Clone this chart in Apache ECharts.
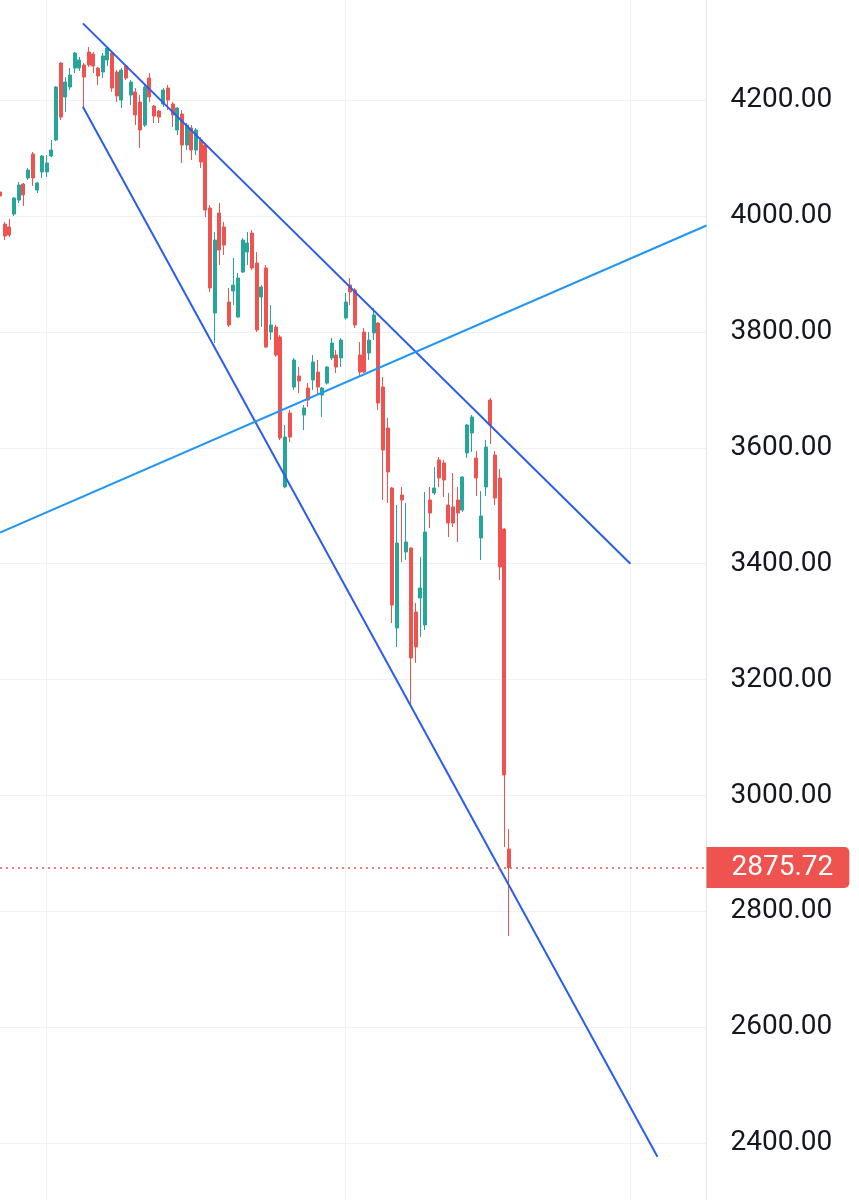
<!DOCTYPE html>
<html>
<head>
<meta charset="utf-8">
<script src="https://cdn.jsdelivr.net/npm/echarts@6/dist/echarts.min.js"></script>
<style>
html,body{margin:0;padding:0;background:#fff;}
#chart{width:859px;height:1200px;}
</style>
</head>
<body>
<div id="chart"></div>
<script>
// ---- data (index = candle number) ----
const opens  = [4041.3,3986.0,3980.9,4003.3,4027.4,4055.1,4065.4,4106.8,4044.7,4075.8,
                4075.8,4103.4,4131.0,4263.8,4205.2,4222.4,4255.2,4255.2,4260.4,4282.8,
                4279.3,4255.2,4248.3,4269.0,4281.1,4248.3,4200.0,4258.6,4208.6,4213.8,
                4196.5,4156.8,4237.9,4189.6,4181.0,4193.1,4220.7,4193.1,4148.2,4175.8,
                4122.3,4151.7,4113.7,4131.0,4122.3,4013.6,3832.5,4005.0,3980.9,3851.5,
                3870.5,3825.6,3903.2,3937.7,3970.5,3918.8,3860.1,3910.1,3799.7,3808.3,
                3791.1,3532.3,3660.0,3704.8,3723.8,3656.5,3703.1,3716.9,3730.7,3691.0,
                3711.7,3754.9,3760.0,3754.9,3823.9,3880.8,3872.2,3760.0,3799.7,3763.5,
                3798.0,3815.2,3704.8,3634.1,3530.6,3289.0,3518.5,3420.2,3427.1,3316.6,
                3340.8,3294.2,3509.9,3522.0,3578.9,3573.7,3501.2,3497.8,3509.9,3492.6,
                3591.0,3625.5,3582.3,3444.3,3532.3,3682.4,3587.5,3547.8,3459.8,2907.8];
const closes = [4034.4,3965.3,3967.1,4030.9,4053.3,4036.1,4079.2,4065.4,4056.8,4103.4,
                4091.3,4113.7,4222.4,4170.6,4231.0,4243.1,4281.1,4269.0,4239.7,4260.4,
                4258.6,4241.4,4275.9,4289.7,4220.7,4206.9,4251.7,4237.9,4231.0,4174.1,
                4148.2,4222.4,4205.2,4172.4,4170.6,4217.2,4200.0,4174.1,4186.2,4122.3,
                4156.8,4113.7,4148.2,4093.0,4010.2,3875.6,3958.4,3941.2,3949.8,3811.8,
                3880.8,3892.9,3958.4,3953.3,3910.1,3803.2,3877.4,3773.8,3811.8,3760.0,
                3616.8,3618.6,3618.6,3751.4,3715.2,3668.6,3682.4,3748.0,3704.8,3703.1,
                3739.3,3780.7,3739.3,3785.9,3851.5,3868.7,3811.8,3730.7,3730.7,3785.9,
                3829.0,3677.2,3596.1,3558.2,3328.7,3435.7,3509.9,3437.4,3237.3,3256.3,
                3358.1,3454.7,3487.4,3530.6,3547.8,3544.4,3470.2,3470.2,3487.4,3549.5,
                3639.3,3653.1,3547.8,3482.3,3601.3,3639.3,3513.3,3394.3,3035.4,2875.72];
const lows   = [4030.9,3958.4,3963.6,3999.8,4022.3,4017.1,4062.0,4051.6,4039.5,4065.4,
                4067.1,4101.6,4129.2,4165.5,4179.3,4217.2,4246.6,4250.0,4187.9,4256.9,
                4246.6,4225.9,4237.9,4258.6,4213.8,4196.5,4186.2,4234.5,4191.3,4156.8,
                4117.2,4153.4,4196.5,4160.3,4160.3,4187.9,4182.7,4153.4,4139.6,4091.3,
                4113.7,4096.5,4105.1,4082.7,3998.1,3868.7,3780.7,3915.3,3932.6,3808.3,
                3846.3,3824.0,3901.5,3915.3,3906.7,3799.7,3808.3,3772.1,3785.9,3757.0,
                3613.4,3530.0,3609.9,3699.7,3694.5,3630.6,3670.3,3699.7,3691.0,3653.1,
                3709.0,3751.4,3729.0,3739.3,3821.0,3846.3,3806.6,3722.1,3729.0,3751.4,
                3785.9,3665.1,3509.9,3504.7,3297.7,3256.3,3402.9,3406.4,3156.2,3228.7,
                3273.5,3285.6,3461.6,3518.5,3532.3,3515.0,3446.0,3463.3,3437.4,3489.2,
                3582.3,3592.7,3516.8,3406.4,3516.8,3606.5,3501.2,3371.9,2911.2,2757.7];
const highs  = [4044.7,3989.5,3994.7,4032.6,4058.5,4056.8,4082.7,4110.3,4058.5,4105.1,
                4105.1,4131.0,4224.1,4265.5,4239.7,4255.2,4282.8,4274.2,4263.8,4291.4,
                4282.8,4256.9,4281.1,4291.4,4282.8,4251.7,4255.2,4260.4,4234.5,4220.7,
                4208.6,4225.9,4246.6,4191.3,4182.7,4220.7,4225.9,4196.5,4187.9,4182.7,
                4160.3,4156.8,4151.7,4136.1,4125.8,4018.8,3972.2,4022.3,3989.5,3875.6,
                3927.4,3901.5,3961.9,3972.2,3975.7,3937.7,3880.8,3915.3,3846.3,3811.8,
                3794.5,3639.3,3665.1,3754.9,3739.3,3673.8,3711.7,3760.0,3751.4,3705.0,
                3741.0,3789.4,3768.7,3789.4,3867.0,3892.9,3875.6,3782.5,3806.6,3799.7,
                3841.1,3817.0,3722.1,3651.3,3532.3,3501.2,3532.3,3504.7,3428.0,3332.2,
                3411.5,3523.7,3532.3,3566.8,3584.1,3578.9,3522.0,3556.5,3532.3,3551.3,
                3641.0,3656.5,3594.4,3525.4,3613.4,3685.9,3594.4,3563.4,3461.0,2942.3];

// trend lines: [[startIndex, startPrice], [endIndex, endPrice]]
const upperLine = [[17.75, 4332.3], [135, 3400]];
const lowerLine = [[17.75, 4188.4], [140.8, 2376.9]];
const supportLine = [[0, 3453.8], [151.3, 3983.5]];

const lastPrice = 2875.72;
const yTicks = {min: 2200, max: 4400, step: 200};
const timeGridIdx = [10, 74, 135];
const xRange = [0, 151.3];

const RED = '#ef5350', GREEN = '#26a69a';

const candleData = opens.map((o, i) => [i, o, closes[i], lows[i], highs[i]]);

const chart = echarts.init(document.getElementById('chart'), null, {renderer: 'canvas'});
chart.setOption({
  animation: false,
  backgroundColor: '#ffffff',
  grid: {left: 0, right: 152.5, top: -15.9, bottom: -59.2, containLabel: false, outerBoundsMode: 'none'},
  xAxis: {
    type: 'value', min: xRange[0], max: xRange[1],
    axisLine: {show: false}, axisTick: {show: false}, axisLabel: {show: false},
    splitLine: {show: false}
  },
  yAxis: {
    type: 'value', position: 'right',
    min: yTicks.min, max: yTicks.max, interval: yTicks.step,
    axisLine: {show: true, onZero: false, lineStyle: {color: '#e0e3eb', width: 1}},
    axisTick: {show: false},
    axisLabel: {
      margin: 24, color: '#131722', fontSize: 28, fontFamily: 'Roboto',
      padding: [4, 0, 0, 0],
      formatter: v => v.toFixed(2)
    },
    splitLine: {show: true, lineStyle: {color: '#eff2f5', width: 1}}
  },
  series: [
    {
      type: 'line', data: [], z: 1, silent: true,
      markLine: {
        silent: true, symbol: 'none', z: 1, animation: false,
        label: {show: false},
        lineStyle: {color: '#eff2f5', width: 1, type: 'solid'},
        data: timeGridIdx.map(v => ({xAxis: v}))
      }
    },
    {
      type: 'candlestick',
      data: candleData,
      encode: {x: 0, y: [1, 2, 3, 4]},
      barWidth: 3.5,
      z: 3,
      itemStyle: {
        color: GREEN, color0: RED,
        borderColor: GREEN, borderColor0: RED,
        borderWidth: 1
      }
    },
    {
      type: 'line', data: upperLine, symbol: 'none', z: 4,
      lineStyle: {color: '#2a5ee8', width: 2}
    },
    {
      type: 'line', data: lowerLine, symbol: 'none', z: 4,
      lineStyle: {color: '#2a5ee8', width: 2}
    },
    {
      type: 'line', data: supportLine, symbol: 'none', z: 4,
      lineStyle: {color: '#2196f3', width: 2}
    },
    {
      type: 'line', data: [], z: 5, clip: false, silent: true,
      markLine: {
        silent: true, symbol: 'none', animation: false,
        lineStyle: {color: RED, width: 1.5, type: [2, 4]},
        label: {
          show: true, position: 'end', distance: 0,
          formatter: () => lastPrice.toFixed(2),
          backgroundColor: RED, color: '#ffffff',
          fontSize: 28, fontFamily: 'Roboto', lineHeight: 31,
          padding: [5, 16, 5, 25], borderRadius: [0, 5, 5, 0]
        },
        data: [{yAxis: lastPrice}]
      }
    }
  ]
});
</script>
</body>
</html>
